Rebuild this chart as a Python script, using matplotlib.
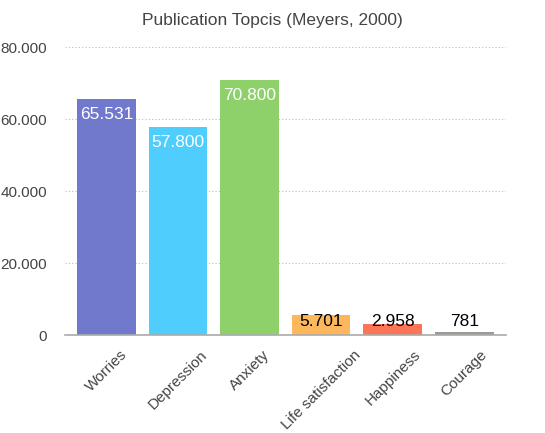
import matplotlib.pyplot as plt
from matplotlib.ticker import FuncFormatter

# Daten
topics = ['Worries', 'Depression', 'Anxiety', 'Life satisfaction', 'Happiness', 'Courage']
counts = [65531, 57800, 70800, 5701, 2958, 781]
colors = ['#7179CC', '#4FCDFD', '#8ED06A', '#FDB75D', '#FC7556', '#9E9A95']
yticks = [0, 20000, 40000, 60000, 80000]

plt.rcParams['font.family'] = ['Liberation Sans', 'DejaVu Sans']

fig = plt.figure(figsize=(5.45, 4.33), dpi=100)
ax = fig.add_axes([0.119, 0.226, 0.809, 0.665])

x = range(len(topics))
ax.bar(x, counts, width=0.82, color=colors, zorder=2)

# Beschriftung der Balken
for i, v in enumerate(counts):
    label = '{:,}'.format(v).replace(',', '.')
    if v > 10000:
        ax.annotate(label, (i, v), xytext=(0, -11), textcoords='offset points',
                    ha='center', va='center', color='white', fontsize=12.5, zorder=3)
    else:
        ax.annotate(label, (i, 0), xytext=(0, 9.5), textcoords='offset points',
                    ha='center', va='center', color='black', fontsize=12.5, zorder=3)

ax.set_xlim(-0.58, 5.58)
ax.set_ylim(0, 80000)
ax.set_yticks(yticks)
ax.yaxis.set_major_formatter(FuncFormatter(lambda v, p: '{:,.0f}'.format(v).replace(',', '.')))
ax.set_xticks(list(x))
ax.set_xticklabels(topics, rotation=45, ha='center')

ax.grid(axis='y', linestyle=(0, (1, 2)), color='#bbbbbb', linewidth=0.8, zorder=0)
for s in ['top', 'right', 'left']:
    ax.spines[s].set_visible(False)
ax.spines['bottom'].set_color('#aaaaaa')
ax.spines['bottom'].set_linewidth(1.2)
ax.tick_params(axis='both', length=0, labelsize=11, labelcolor='#444444')
ax.tick_params(axis='y', pad=13)
ax.tick_params(axis='x', pad=9)

fig.text(0.5, 0.953, 'Publication Topcis (Meyers, 2000)', ha='center', va='center',
         fontsize=12.5, color='#444444')

plt.savefig('out.png', dpi=100)
